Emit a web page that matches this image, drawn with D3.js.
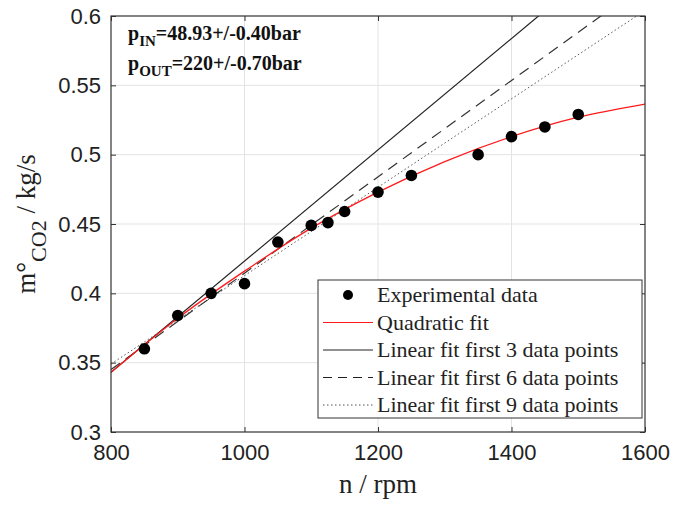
<!DOCTYPE html>
<html>
<head>
<meta charset="utf-8">
<script src="https://cdn.jsdelivr.net/npm/d3@7"></script>
<style>
  body { margin: 0; background: #fff; }
  svg { font-family: "Liberation Serif", "DejaVu Serif", serif; }
</style>
</head>
<body>
<div id="chart"></div>
<script>
// experimental points
const speed = [850, 900, 950, 1000, 1050, 1100, 1125, 1150, 1200, 1250, 1350, 1400, 1450, 1500];
const massFlow = [0.360, 0.384, 0.400, 0.407, 0.437, 0.449, 0.451, 0.459, 0.473, 0.485, 0.500, 0.513, 0.520, 0.529];

// quadratic fit
const quadSpeed = [800, 900, 1000, 1100, 1200, 1300, 1400, 1500, 1600];
const quadFlow = [0.343, 0.382, 0.416, 0.447, 0.473, 0.495, 0.513, 0.527, 0.5365];

// linear fits, end values at 800 and 1600 rpm
const fitSpeed = [800, 1600];
const linear3 = [0.343, 0.664];
const linear6 = [0.345, 0.623];
const linear9 = [0.349, 0.604];

const xTicks = [800, 1000, 1200, 1400, 1600];
const yTicks = [0.3, 0.35, 0.4, 0.45, 0.5, 0.55, 0.6];

const legendLabels = ['Experimental data', 'Quadratic fit', 'Linear fit first 3 data points',
  'Linear fit first 6 data points', 'Linear fit first 9 data points'];

const margin = { top: 16, right: 41, bottom: 73, left: 111 };
const width = 686 - margin.left - margin.right;
const height = 505 - margin.top - margin.bottom;

const svg = d3.select('#chart').append('svg')
  .attr('width', 686)
  .attr('height', 505);

const g = svg.append('g')
  .attr('transform', `translate(${margin.left},${margin.top})`);

const x = d3.scaleLinear().domain([800, 1600]).range([0, width]);
const y = d3.scaleLinear().domain([0.3, 0.6]).range([height, 0]);

// grid
g.append('g').selectAll('line').data(xTicks.slice(1, -1)).enter().append('line')
  .attr('x1', d => x(d)).attr('x2', d => x(d))
  .attr('y1', 0).attr('y2', height)
  .attr('stroke', '#e3e3e3').attr('stroke-width', 1);
g.append('g').selectAll('line').data(yTicks.slice(1, -1)).enter().append('line')
  .attr('x1', 0).attr('x2', width)
  .attr('y1', d => y(d)).attr('y2', d => y(d))
  .attr('stroke', '#e3e3e3').attr('stroke-width', 1);

g.append('clipPath').attr('id', 'clip')
  .append('rect').attr('width', width).attr('height', height);

const plot = g.append('g').attr('clip-path', 'url(#clip)');

const line = d3.line().x(d => x(d[0])).y(d => y(d[1]));

const fits = [
  { vals: linear9, dash: '1.5,2.5', color: '#555', w: 1 },
  { vals: linear6, dash: '11,7', color: '#333', w: 1.2 },
  { vals: linear3, dash: null, color: '#222', w: 1.2 }
];
fits.forEach(f => {
  plot.append('path')
    .datum(fitSpeed.map((s, i) => [s, f.vals[i]]))
    .attr('d', line)
    .attr('fill', 'none')
    .attr('stroke', f.color)
    .attr('stroke-width', f.w)
    .attr('stroke-dasharray', f.dash);
});

plot.append('path')
  .datum(quadSpeed.map((s, i) => [s, quadFlow[i]]))
  .attr('d', line.curve(d3.curveMonotoneX))
  .attr('fill', 'none')
  .attr('stroke', '#ff1a1a')
  .attr('stroke-width', 1.3);

g.selectAll('.dot').data(speed).enter().append('circle')
  .attr('class', 'dot')
  .attr('cx', d => x(d))
  .attr('cy', (d, i) => y(massFlow[i]))
  .attr('r', 5.8)
  .attr('fill', '#000');

// axes, MATLAB style box with inward ticks
const tickStyle = sel => {
  sel.selectAll('.domain').remove();
  sel.selectAll('.tick line').attr('stroke', '#333');
  sel.selectAll('.tick text').attr('fill', '#222').style('font-size', '22px');
};

g.append('g').attr('transform', `translate(0,${height})`)
  .call(d3.axisBottom(x).tickValues(xTicks).tickSize(-5).tickPadding(12).tickFormat(d3.format('d')))
  .call(tickStyle);
g.append('g')
  .call(d3.axisTop(x).tickValues(xTicks).tickSize(-5).tickFormat(''))
  .call(tickStyle);
g.append('g')
  .call(d3.axisLeft(y).tickValues(yTicks).tickSize(-5).tickPadding(10).tickFormat(d => d3.format('')(+d.toFixed(2))))
  .call(tickStyle);
g.append('g').attr('transform', `translate(${width},0)`)
  .call(d3.axisRight(y).tickValues(yTicks).tickSize(-5).tickFormat(''))
  .call(tickStyle);

g.append('rect')
  .attr('width', width).attr('height', height)
  .attr('fill', 'none').attr('stroke', '#333').attr('stroke-width', 1.2);

// axis labels
svg.append('text')
  .attr('x', margin.left + width / 2)
  .attr('y', 493)
  .attr('text-anchor', 'middle')
  .style('font-size', '27px')
  .attr('fill', '#222')
  .text('n / rpm');

const yl = svg.append('text')
  .attr('transform', 'translate(35,224) rotate(-90)')
  .attr('text-anchor', 'middle')
  .style('font-size', '27px')
  .attr('fill', '#222');
yl.append('tspan').text('m°');
yl.append('tspan').attr('dy', 11).style('font-size', '22px').text('CO2');
yl.append('tspan').attr('dy', -11).text(' / kg/s');

// pressure annotation
const note = g.append('g').attr('transform', 'translate(17,0)')
  .style('font-weight', 'bold').attr('fill', '#111');
const n1 = note.append('text').attr('y', 24).style('font-size', '20px');
n1.append('tspan').text('p');
n1.append('tspan').attr('dy', 6).style('font-size', '15px').text('IN');
n1.append('tspan').attr('dy', -6).text('=48.93+/-0.40bar');
const n2 = note.append('text').attr('y', 54).style('font-size', '20px');
n2.append('tspan').text('p');
n2.append('tspan').attr('dy', 6).style('font-size', '15px').text('OUT');
n2.append('tspan').attr('dy', -6).text('=220+/-0.70bar');

// legend
const lg = svg.append('g').attr('transform', 'translate(318,280)');
lg.append('rect')
  .attr('width', 324).attr('height', 138)
  .attr('fill', '#fff').attr('stroke', '#333').attr('stroke-width', 1);

const legendStyle = [
  { type: 'dot' },
  { color: '#ff1a1a', dash: null },
  { color: '#222', dash: null },
  { color: '#222', dash: '9,6' },
  { color: '#555', dash: '1.5,2.5' }
];
legendLabels.forEach((label, i) => {
  const yy = 15 + i * 27.5;
  const s = legendStyle[i];
  if (s.type === 'dot') {
    lg.append('circle').attr('cx', 30).attr('cy', yy).attr('r', 5).attr('fill', '#000');
  } else {
    lg.append('line')
      .attr('x1', 5).attr('x2', 55).attr('y1', yy).attr('y2', yy)
      .attr('stroke', s.color).attr('stroke-width', 1.2)
      .attr('stroke-dasharray', s.dash);
  }
  lg.append('text')
    .attr('x', 59).attr('y', yy + 7)
    .style('font-size', '22px')
    .attr('fill', '#222')
    .text(label);
});
</script>
</body>
</html>
